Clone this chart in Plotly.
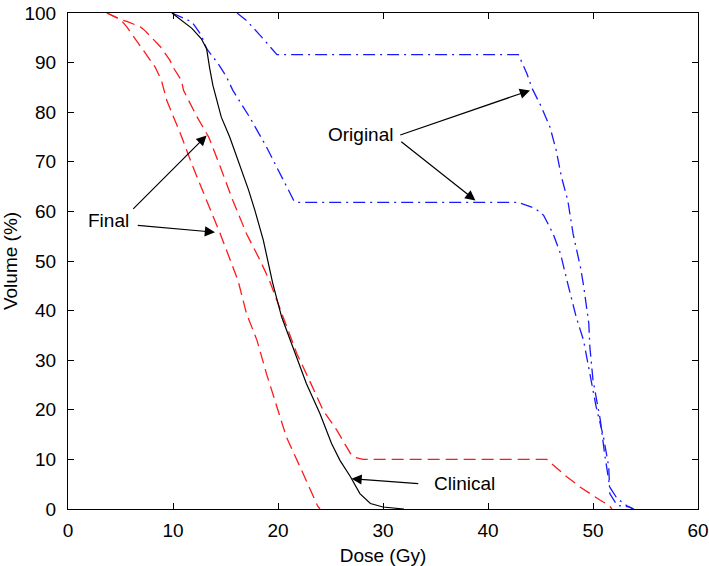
import plotly.graph_objects as go

# ---- data ----
clinical_dose = [9.9, 11.8, 12.7, 13.2, 13.5, 13.8, 14.6, 15.4, 17.2, 17.8, 18.6, 19.5, 20.35, 21.5,
                 22.7, 24.0, 25.1, 25.9, 26.9, 27.8, 28.8, 30.0, 32.0]
clinical_vol = [100, 96.9, 94.8, 92.8, 88.8, 85.4, 79, 75, 64.3, 60.2, 54.2, 45.5, 38.7, 32,
                25.3, 19.2, 13.2, 9.8, 6.5, 3.1, 1.1, 0.4, 0]

final_a_dose = [3.7, 5.0, 5.6, 6.5, 6.9, 7.8, 8.3, 8.9, 9.4, 10.7, 11.9, 13.2, 14.5, 15.7, 16.2,
                17.0, 18.0, 18.9, 19.9, 20.8, 22.1, 23.2, 23.8, 24.0]
final_a_vol = [100, 98.7, 97.2, 94.5, 93.2, 90.5, 89.1, 86.4, 82.4, 75.7, 69, 62.2, 55.5, 48.8, 46,
               39.4, 34, 27.3, 20.6, 14.5, 8.5, 3.1, 0.5, 0]

final_b_dose = [3.7, 5.0, 5.6, 6.9, 7.3, 8.4, 8.8, 9.7, 10.0, 10.8, 11.0, 12.3, 13.4, 14.5, 15.7,
                17.0, 18.3, 19.2, 20.5, 21.8, 23.0, 24.3, 25.6, 26.9, 27.5, 28.1, 45.6, 46.4,
                47.5, 48.8, 49.7, 50.7, 51.5, 51.8]
final_b_vol = [100, 98.7, 98.3, 97.2, 96.5, 94.2, 93.2, 90.5, 89.1, 86.4, 84.4, 79, 75, 69, 62.2,
               55.5, 50.1, 46, 38.7, 31.3, 25.9, 19.9, 15.9, 11.2, 10.3, 10, 10, 8.5,
               6.5, 4.4, 3.1, 1.75, 0.75, 0]

orig_a_dose = [16.1, 17.0, 18.3, 19.55, 19.9, 42.9, 43.7, 44.2, 45.1, 45.9, 46.5, 47.0, 47.6, 48.1,
               48.8, 49.1, 49.6, 49.7, 50.0, 50.7, 51.1, 51.6, 52.3, 53.2, 53.8]
orig_a_vol = [100, 98.5, 95.5, 92.5, 91.6, 91.6, 87.8, 84.8, 81, 77, 72.3, 66.9, 62.2, 55.5,
              48.8, 45.1, 37.4, 32.7, 26, 17.9, 11.2, 4.4, 2.1, 0.7, 0]

orig_b_dose = [9.9, 11.8, 12.7, 13.2, 14.3, 15.1, 15.7, 17.3, 18.9, 20.5, 21.5, 21.8, 42.9, 44.5,
               45.3, 46.2, 46.9, 47.6, 48.4, 49.1, 49.7, 50.3, 51.0, 51.5, 51.6, 52.3, 53.5, 53.9]
orig_b_vol = [100, 98.2, 95.5, 92.8, 89.8, 87.1, 84.4, 79, 73, 66.3, 62.2, 61.8, 61.8, 60.6,
              59.2, 55.5, 51.5, 45.4, 38.7, 34, 27.3, 20.6, 14.5, 8.5, 3.1, 0.75, 0.4, 0]

x_ticks = [0, 10, 20, 30, 40, 50, 60]
y_ticks = [0, 10, 20, 30, 40, 50, 60, 70, 80, 90, 100]

# labels: (text, x, y)
labels = [("Final", 3.9, 58.2), ("Original", 27.9, 75.5), ("Clinical", 37.8, 5.2)]
# arrows: (tail_x, tail_y, tip_x, tip_y)
arrows = [(6.07, 60.2, 13.2, 75.3), (6.5, 57.2, 14.0, 55.8),
          (31.5, 75.3, 44.0, 84.4), (31.6, 74.3, 38.8, 62.2),
          (33.5, 5.1, 27.0, 6.1)]

FONT = "Liberation Sans, Arial, sans-serif"

fig = go.Figure()
fig.add_trace(go.Scatter(x=final_a_dose, y=final_a_vol, mode="lines",
                         line=dict(color="#ff1a1a", width=1.3, dash="12px,6px")))
fig.add_trace(go.Scatter(x=final_b_dose, y=final_b_vol, mode="lines",
                         line=dict(color="#ff1a1a", width=1.3, dash="12px,6px")))
fig.add_trace(go.Scatter(x=orig_a_dose, y=orig_a_vol, mode="lines",
                         line=dict(color="#1a1aff", width=1.3, dash="12px,5px,2px,5px")))
fig.add_trace(go.Scatter(x=orig_b_dose, y=orig_b_vol, mode="lines",
                         line=dict(color="#1a1aff", width=1.3, dash="12px,5px,2px,5px")))
fig.add_trace(go.Scatter(x=clinical_dose, y=clinical_vol, mode="lines",
                         line=dict(color="black", width=1.2)))

for text, x, y in labels:
    fig.add_annotation(x=x, y=y, text=text, showarrow=False,
                       font=dict(family=FONT, size=19, color="black"))
for tx, ty, hx, hy in arrows:
    fig.add_annotation(x=hx, y=hy, ax=tx, ay=ty, xref="x", yref="y", axref="x", ayref="y",
                       text="", showarrow=True, arrowhead=2, arrowsize=1.7, arrowwidth=1.2,
                       arrowcolor="black")

axis_common = dict(showline=True, linecolor="black", linewidth=1.2, mirror="ticks",
                   ticks="inside", ticklen=6, tickcolor="black", tickwidth=1.2,
                   showgrid=False, zeroline=False,
                   tickfont=dict(family=FONT, size=19, color="black"))

fig.update_xaxes(range=[0, 60], tickvals=x_ticks, ticktext=[str(v) for v in x_ticks],
                 title=dict(text="Dose (Gy)", standoff=8, font=dict(family=FONT, size=19, color="black")),
                 ticklabelstandoff=4, **axis_common)
fig.update_yaxes(range=[0, 100], tickvals=y_ticks, ticktext=[str(v) for v in y_ticks],
                 title=dict(text="Volume (%)", standoff=6, font=dict(family=FONT, size=19, color="black")),
                 ticklabelstandoff=7, **axis_common)

fig.update_layout(width=709, height=566, showlegend=False,
                  margin=dict(l=68, r=11, t=13, b=57, autoexpand=False),
                  plot_bgcolor="white", paper_bgcolor="white")

fig.write_html("out.html", config={"displayModeBar": False},
               post_script="document.body.style.margin='0';document.body.style.overflow='hidden';")
